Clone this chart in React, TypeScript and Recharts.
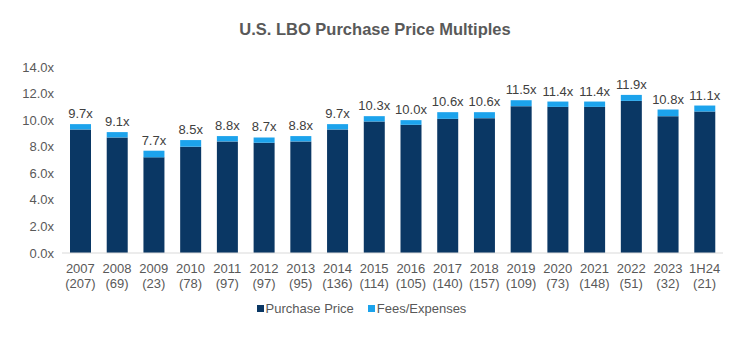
import React from 'react';
import { BarChart, Bar, XAxis, YAxis, Legend, LabelList } from 'recharts';

const years = ['2007', '2008', '2009', '2010', '2011', '2012', '2013', '2014', '2015', '2016', '2017', '2018', '2019', '2020', '2021', '2022', '2023', '1H24'];
const dealCounts = [207, 69, 23, 78, 97, 97, 95, 136, 114, 105, 140, 157, 109, 73, 148, 51, 32, 21];
const totalMultiple = [9.7, 9.1, 7.7, 8.5, 8.8, 8.7, 8.8, 9.7, 10.3, 10.0, 10.6, 10.6, 11.5, 11.4, 11.4, 11.9, 10.8, 11.1];
const purchasePrice = [9.3, 8.7, 7.2, 8.0, 8.4, 8.3, 8.4, 9.3, 9.9, 9.65, 10.1, 10.15, 11.05, 11.0, 11.0, 11.45, 10.3, 10.65];
const yTicks = [0, 2, 4, 6, 8, 10, 12, 14];

const DARK = '#0A3764';
const LIGHT = '#1CA3EC';
const FONT = '"Liberation Sans", Arial, sans-serif';

const data = years.map((y, i) => ({
  year: y,
  deals: dealCounts[i],
  pp: purchasePrice[i],
  fees: +(totalMultiple[i] - purchasePrice[i]).toFixed(2),
  total: totalMultiple[i],
}));

const legendItems = [
  { label: 'Purchase Price', color: DARK },
  { label: 'Fees/Expenses', color: LIGHT },
];

const YearTick = (props: any) => {
  const { x, y, payload } = props;
  const d = data[payload.index];
  return (
    <text x={x} y={y} textAnchor="middle" fill="#595959" fontSize={13} fontFamily={FONT}>
      <tspan x={x} dy={12}>{payload.value}</tspan>
      <tspan x={x} dy={15}>({d ? d.deals : ''})</tspan>
    </text>
  );
};

const LegendContent = () => (
  <div style={{ display: 'flex', justifyContent: 'center', gap: 14, fontSize: 13, color: '#595959', fontFamily: FONT }}>
    {legendItems.map((it) => (
      <span key={it.label} style={{ display: 'inline-flex', alignItems: 'center' }}>
        <span style={{ width: 7, height: 7, background: it.color, marginRight: 2, display: 'inline-block' }} />
        {it.label}
      </span>
    ))}
  </div>
);

export default function App() {
  if (typeof document !== 'undefined') document.body.style.margin = '0';
  return (
    <div style={{ width: 750, height: 350, position: 'relative', background: '#fff', fontFamily: FONT }}>
      <div style={{ position: 'absolute', top: 20, width: 750, textAlign: 'center', fontSize: 16.5, fontWeight: 'bold', color: '#595959' }}>
        U.S. LBO Purchase Price Multiples
      </div>
      <BarChart width={750} height={350} data={data} margin={{ top: 67, right: 27, left: 0, bottom: 34 }} barSize={21}>
        <XAxis dataKey="year" tick={<YearTick />} tickLine={false} axisLine={{ stroke: '#D9D9D9' }} interval={0} height={48} />
        <YAxis width={62} domain={[0, 14]} ticks={yTicks} tickFormatter={(v: number) => v.toFixed(1) + 'x'} axisLine={false} tickLine={false}
          tick={{ fill: '#595959', fontSize: 13, fontFamily: FONT }} />
        <Legend verticalAlign="bottom" content={<LegendContent />} />
        <Bar dataKey="pp" name="Purchase Price" stackId="a" fill={DARK} isAnimationActive={false} />
        <Bar dataKey="fees" name="Fees/Expenses" stackId="a" fill={LIGHT} isAnimationActive={false}>
          <LabelList dataKey="total" position="top" offset={6} formatter={(v: any) => Number(v).toFixed(1) + 'x'}
            fill="#404040" fontSize={13} fontFamily={FONT} />
        </Bar>
      </BarChart>
    </div>
  );
}
